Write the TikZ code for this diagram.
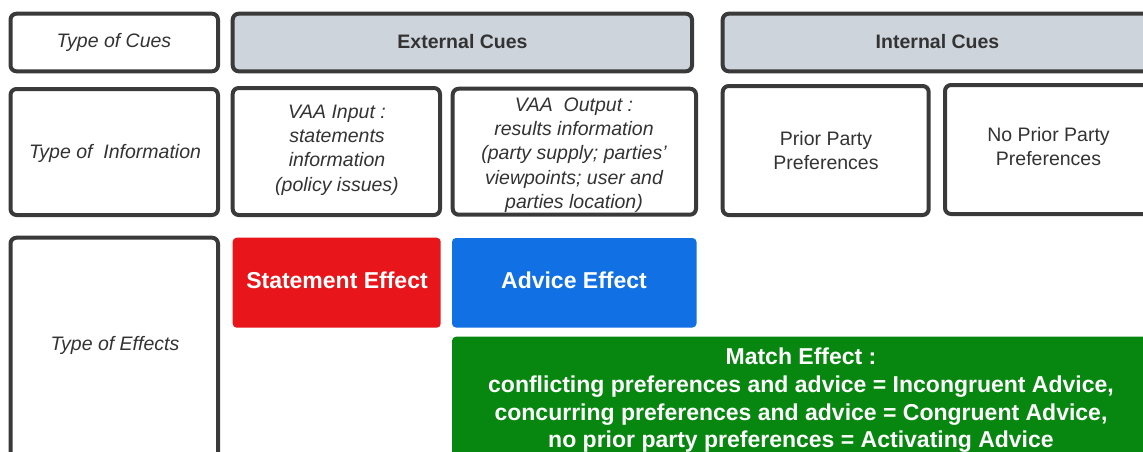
\documentclass[tikz,border=0pt]{standalone}
\usepackage{fontspec}
\setmainfont{Liberation Sans}
\definecolor{edge}{HTML}{3A3A3A}
\definecolor{ink}{HTML}{333333}
\definecolor{cuefill}{HTML}{CED4DC}
\definecolor{stmtred}{HTML}{E8161A}
\definecolor{advblue}{HTML}{1170E4}
\definecolor{matchgreen}{HTML}{07870F}
\begin{document}
\begin{tikzpicture}[x=1pt,y=-1pt,
  cell/.style={draw=edge, line width=4pt, rounded corners=6pt, fill=white,
    anchor=north west, inner sep=0pt, outer sep=0pt},
  cue/.style={cell, fill=cuefill},
  effect/.style={rounded corners=4pt, anchor=north west, inner sep=0pt, outer sep=0pt},
  lbl/.style={text=ink, align=center, inner sep=0pt,
    font=\fontsize{19.5}{24.3}\selectfont\itshape},
  plain/.style={lbl, font=\fontsize{19.5}{24.3}\selectfont},
  head/.style={lbl, font=\fontsize{19.5}{24.3}\selectfont\bfseries},
  efflbl/.style={text=white, align=center, inner sep=0pt,
    font=\fontsize{23}{27.7}\selectfont\bfseries}]
\useasboundingbox (0,0) rectangle (1143,451);
\clip (0,0) rectangle (1143,451);

% row 1: type of cues
\node[cell, minimum width=207.5pt, minimum height=57.6pt] (cues) at (10.5,13.7) {};
\node[cue, minimum width=459.3pt, minimum height=57.6pt] (ext) at (232.7,13.7) {};
\node[cue, minimum width=440pt, minimum height=57.6pt] (int) at (722.7,13.7) {};

% row 2: type of information
\node[cell, minimum width=207.5pt, minimum height=126pt] (info) at (10.5,89) {};
\node[cell, minimum width=207.3pt, minimum height=127pt] (vin) at (232.7,88) {};
\node[cell, minimum width=243.3pt, minimum height=126pt] (vout) at (452.7,88.7) {};
\node[cell, minimum width=206pt, minimum height=129pt] (prior) at (722.7,86) {};
\node[cell, minimum width=207pt, minimum height=129pt] (noprior) at (945,85) {};

% row 3: type of effects
\node[cell, minimum width=207.5pt, minimum height=240pt] (effects) at (10.5,237.7) {};
\node[effect, fill=stmtred, minimum width=208pt, minimum height=90pt] (stmt) at (232.7,237.7) {};
\node[effect, fill=advblue, minimum width=244.5pt, minimum height=89.5pt] (advice) at (452,238) {};
\node[effect, fill=matchgreen, minimum width=700pt, minimum height=130pt] (match) at (452,336.7) {};

% labels
\node[lbl] (cues-t) at (114,42.5) {Type of Cues};
\node[head] (ext-t) at (462.5,42) {External Cues};
\node[head] (int-t) at (937.5,42) {Internal Cues};
\node[lbl] (info-t) at (115,153) {Type of~~Information};
\node[lbl] (vin-t) at (337,150) {VAA Input :\\statements\\information\\(policy issues)};
\node[lbl] (vout-t) at (574,155) {VAA~~Output :\\results information\\(party supply; parties'\\viewpoints; user and\\parties location)};
\node[plain] (prior-t) at (826,150.5) {Prior Party\\Preferences};
\node[plain] (noprior-t) at (1048.5,146.5) {No Prior Party\\Preferences};
\node[lbl] (effects-t) at (115,345) {Type of Effects};
\node[efflbl] (stmt-t) at (337,280.5) {Statement Effect};
\node[efflbl] (advice-t) at (574,280.5) {Advice Effect};
\node[efflbl] (match-t) at (801,400.5) {Match Effect :\\conflicting preferences and advice = Incongruent Advice,\\concurring preferences and advice = Congruent Advice,\\no prior party preferences = Activating Advice};
\end{tikzpicture}
\end{document}
